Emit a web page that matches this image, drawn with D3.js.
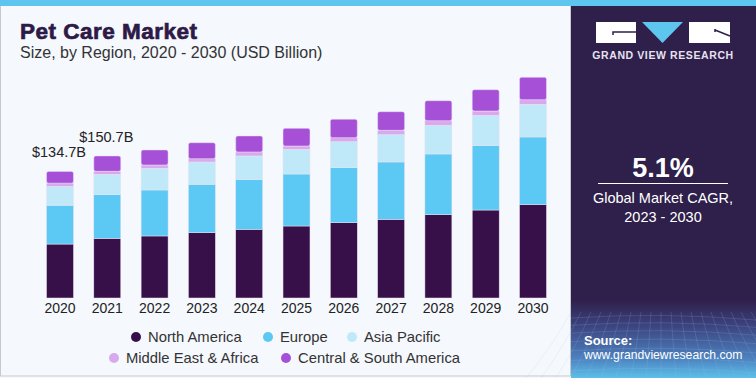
<!DOCTYPE html>
<html><head><meta charset="utf-8">
<script src="https://cdn.jsdelivr.net/npm/d3@7"></script>
<style>
html,body{margin:0;padding:0;background:#fff;}
svg{display:block;font-family:"Liberation Sans",Arial,sans-serif;}
</style></head>
<body><svg id="c" width="756" height="378"></svg>
<script>
const years = ["2020","2021","2022","2023","2024","2025","2026","2027","2028","2029","2030"];
const seriesNames = ["North America","Europe","Asia Pacific","Middle East & Africa","Central & South America"];
const northAmerica = [57.4,63.5,66.0,69.5,73.1,76.6,80.1,83.7,88.6,93.6,99.3];
const europe       = [41.3,46.4,48.9,51.5,52.8,55.3,58.5,61.0,64.6,68.4,72.0];
const asiaPacific  = [20.0,21.7,23.1,23.7,25.2,26.3,27.7,29.0,30.5,32.3,34.8];
const middleEast   = [3.5,3.2,3.5,3.5,4.3,3.5,4.3,4.7,4.9,4.6,4.9];
const centralSouth = [12.5,16.3,16.0,17.0,17.0,18.8,19.6,19.8,21.3,22.7,23.8];
const colors = ["#37104a","#5bc9f3","#bfe9f9","#d8aaed","#a650d8"];
const annotations = [{year:"2020", label:"$134.7B"},{year:"2021", label:"$150.7B"}];
const cagrValue = "5.1%";
const cagrLines = ["Global Market CAGR,","2023 - 2030"];

const svg = d3.select("#c");
const W = 756, H = 378;

// panels
svg.append("rect").attr("x",0).attr("y",0).attr("width",571).attr("height",H).attr("fill","#f5f8fd");
svg.append("rect").attr("x",0.5).attr("y",0).attr("width",570).attr("height",376).attr("fill","none").attr("stroke","#c9c9cc").attr("stroke-width",1);
svg.append("rect").attr("x",571).attr("y",0).attr("width",185).attr("height",H).attr("fill","#2f1f4b");
const defs = svg.append("defs");
const g1 = defs.append("linearGradient").attr("id","src").attr("x1",0).attr("y1",0).attr("x2",0).attr("y2",1);
g1.append("stop").attr("offset","0%").attr("stop-color","#2f1f4b");
g1.append("stop").attr("offset","35%").attr("stop-color","#3d4682");
g1.append("stop").attr("offset","75%").attr("stop-color","#4d82bf");
g1.append("stop").attr("offset","100%").attr("stop-color","#5cc0ea");
svg.append("rect").attr("x",571).attr("y",300).attr("width",185).attr("height",78).attr("fill","url(#src)");
// faint grid
const grid = svg.append("g").attr("stroke","#9fc4ee").attr("stroke-opacity",0.25).attr("stroke-width",0.7).attr("fill","none");
for(let i=0;i<20;i++){
  const x = 571 + i*10;
  grid.append("path").attr("d",`M${x},312 Q${x+ (i-9)*2},345 ${x+(i-9)*5},378`);
}
for(let j=0;j<9;j++){
  const y = 318 + j*7 + j*j*0.3;
  grid.append("path").attr("d",`M571,${y} Q663,${y-6} 756,${y+2}`);
}
// top band
svg.append("rect").attr("x",0).attr("y",0).attr("width",W).attr("height",6).attr("fill","#5ec5ee");

// title
svg.append("text").attr("x",20).attr("y",39).attr("font-size",22.5).attr("font-weight",700)
  .attr("fill","#2e1a47").attr("stroke","#2e1a47").attr("stroke-width",0.7).attr("letter-spacing",0.5).text("Pet Care Market");
svg.append("text").attr("x",20).attr("y",58).attr("font-size",16).attr("fill","#333").text("Size, by Region, 2020 - 2030 (USD Billion)");

// scales
const x = d3.scaleBand().domain(years).range([36.35,556.65]).paddingInner(0.43).paddingOuter(0.215);
const y = d3.scaleLinear().domain([0,240]).range([298,298-240*0.94]);

const rows = years.map((yr,i)=>({year:yr,"North America":northAmerica[i],"Europe":europe[i],"Asia Pacific":asiaPacific[i],"Middle East & Africa":middleEast[i],"Central & South America":centralSouth[i]}));
const stack = d3.stack().keys(seriesNames)(rows);

const bars = svg.append("g");
stack.forEach((layer,k)=>{
  bars.selectAll(null).data(layer).enter().append("rect")
    .attr("x",d=>x(d.data.year)).attr("width",x.bandwidth())
    .attr("y",d=>y(d[1])).attr("height",d=>y(d[0])-y(d[1]))
    .attr("fill",colors[k]).attr("stroke","#e9e2f2").attr("stroke-width",0.5)
    .attr("rx",k===4?2:0);
});

// x axis labels
const xa = svg.append("g").attr("transform","translate(0,298)").call(d3.axisBottom(x).tickSize(0).tickPadding(8));
xa.select(".domain").remove();
xa.selectAll("text").attr("font-size",14).attr("fill","#222").attr("font-family","'Liberation Sans',Arial,sans-serif").attr("dy","0.71em").attr("y",5);

// annotations
const tot = years.map((yr,i)=>northAmerica[i]+europe[i]+asiaPacific[i]+middleEast[i]+centralSouth[i]);
annotations.forEach(a=>{
  const i = years.indexOf(a.year);
  svg.append("text").attr("x",x(a.year)+x.bandwidth()/2-1).attr("y",y(tot[i])-14)
    .attr("text-anchor","middle").attr("font-size",14.5).attr("fill","#222").text(a.label);
});

// legend
const legendPos = [[136,337],[268,337],[352,337],[114,358],[286,358]];
seriesNames.forEach((n,k)=>{
  const [lx,ly] = legendPos[k];
  svg.append("circle").attr("cx",lx).attr("cy",ly).attr("r",5).attr("fill",colors[k]);
  svg.append("text").attr("x",lx+12).attr("y",ly+4.8).attr("font-size",14.8).attr("fill","#333").text(n);
});

// logo
const logo = svg.append("g");
logo.append("rect").attr("x",596).attr("y",22).attr("width",40).attr("height",21).attr("fill","#fff");
logo.append("path").attr("d","M613,35 L613,32 L636,32").attr("stroke","#2f1f4b").attr("stroke-width",1.5).attr("fill","none");
logo.append("path").attr("d","M642,22 L683,22 L662.5,43 Z").attr("fill","#5ec5ee");
logo.append("rect").attr("x",689).attr("y",22).attr("width",41).attr("height",21).attr("fill","#fff");
logo.append("path").attr("d","M715,30 L730,36 M715,29 L715,32").attr("stroke","#2f1f4b").attr("stroke-width",1.5).attr("fill","none");
svg.append("text").attr("x",663).attr("y",59).attr("text-anchor","middle").attr("font-size",10.5).attr("font-weight",700)
  .attr("letter-spacing",0.6).attr("fill","#e6e3ee").text("GRAND VIEW RESEARCH");

// CAGR
svg.append("text").attr("x",663).attr("y",177).attr("text-anchor","middle").attr("font-size",27).attr("font-weight",700).attr("fill","#fff").text(cagrValue);
svg.append("line").attr("x1",598).attr("x2",728).attr("y1",183.5).attr("y2",183.5).attr("stroke","#fff").attr("stroke-width",1);
cagrLines.forEach((t,i)=>{
  svg.append("text").attr("x",663).attr("y",203+i*18.5).attr("text-anchor","middle").attr("font-size",14.5).attr("fill","#fff").text(t);
});

// source
svg.append("text").attr("x",584).attr("y",345).attr("font-size",13).attr("font-weight",700).attr("fill","#fff").text("Source:");
svg.append("text").attr("x",584).attr("y",359).attr("font-size",12.2).attr("fill","#fff").text("www.grandviewresearch.com");
</script></body></html>
